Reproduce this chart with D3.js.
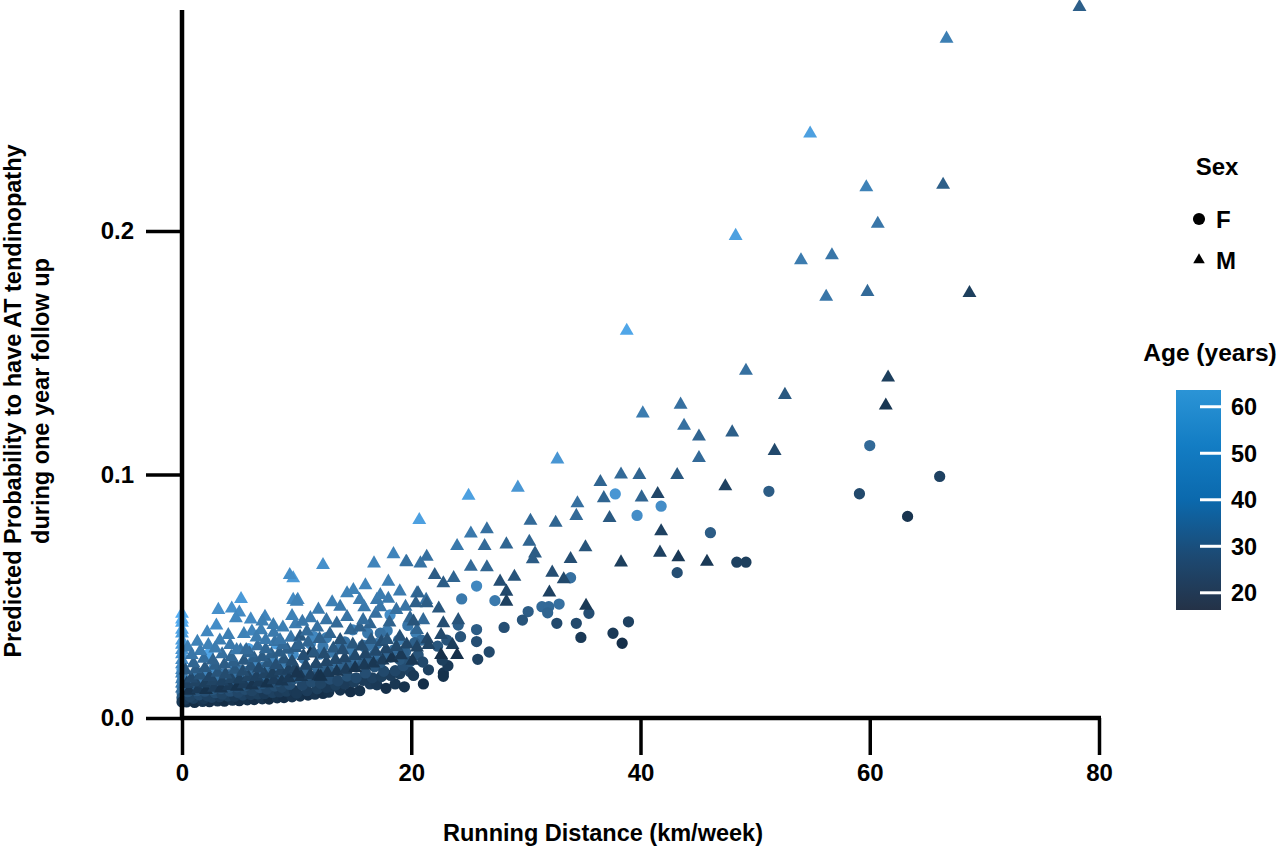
<!DOCTYPE html>
<html>
<head>
<meta charset="utf-8">
<script src="https://cdn.jsdelivr.net/npm/d3@7"></script>
<style>
    body { margin: 0; background: #fff; font-family: 'Liberation Sans', Arial, sans-serif; }
    svg { display: block; }
    text { font-weight: bold; fill: #000; }
</style>
</head>
<body>
<div id="chart"></div>
<script>
// [running distance km/week, predicted probability, age years]
var femalePoints = [
    [0,0.0199,58],[0,0.0176,55],[0,0.0151,52],[0,0.0128,48],[0,0.0104,42],[0,0.0083,33],[0,0.0066,22],
    [0.4,0.0066,19],[1.1,0.0064,17],[1.8,0.0068,20],[2.4,0.0067,18],[3.1,0.0070,19],[3.7,0.0069,17],[4.4,0.0073,20],
    [5.0,0.0071,18],[5.7,0.0075,19],[6.3,0.0076,18],[7.0,0.0079,20],[7.6,0.0078,17],[8.3,0.0083,19],[8.9,0.0084,18],[9.6,0.0087,20],
    [0.3,0.0078,23],[1.0,0.0081,24],[1.9,0.0080,22],[2.6,0.0085,25],[3.3,0.0087,23],[4.0,0.0090,24],[4.6,0.0089,22],
    [5.3,0.0094,25],[6.0,0.0096,23],[6.6,0.0099,24],[7.2,0.0100,22],[7.9,0.0105,25],[8.5,0.0107,23],[9.1,0.0110,24],[9.8,0.0112,22],
    [0.7,0.0088,26],[1.5,0.0095,28],[2.2,0.0091,25],[2.9,0.0104,29],[3.5,0.0098,26],[4.2,0.0110,30],[4.9,0.0105,27],
    [5.5,0.0118,29],[6.1,0.0112,26],[6.8,0.0125,30],[7.4,0.0119,27],[8.1,0.0131,29],[8.7,0.0126,26],[9.4,0.0138,30],
    [0.5,0.0108,31],[1.3,0.0112,32],[2.0,0.0110,30],[2.7,0.0118,33],[3.4,0.0121,31],[4.1,0.0125,32],[4.8,0.0128,30],
    [5.6,0.0135,33],[6.3,0.0138,31],[7.0,0.0142,32],[7.7,0.0147,31],[8.4,0.0152,33],[9.0,0.0156,31],[9.8,0.0162,33],
    [0.9,0.0122,35],[1.7,0.0135,37],[2.6,0.0128,33],[3.3,0.0146,38],[4.0,0.0139,34],[4.7,0.0158,39],[5.3,0.0150,35],
    [6.0,0.0166,38],[6.6,0.0160,34],[7.3,0.0178,40],[8.0,0.0170,36],[8.6,0.0188,39],[9.2,0.0181,35],
    [0.6,0.0150,42],[1.5,0.0158,43],[2.4,0.0165,41],[3.2,0.0170,43],[4.1,0.0178,42],[5.0,0.0186,43],[5.8,0.0192,41],
    [6.8,0.0200,43],[7.6,0.0190,40],[8.4,0.0215,44],[9.4,0.0220,42],
    [1.2,0.0172,46],[2.0,0.0190,49],[2.8,0.0205,52],[3.6,0.0182,44],[4.5,0.0221,53],[5.2,0.0196,46],[6.2,0.0233,51],
    [7.1,0.0210,45],[7.9,0.0246,50],[8.8,0.0228,47],[9.7,0.0262,52],
    [2.3,0.0262,60],[5.8,0.0285,58],[8.2,0.0305,57],
    [10.3,0.0090,19],[11.0,0.0094,18],[11.6,0.0098,20],[12.3,0.0101,18],[12.8,0.0106,19],[13.1,0.0129,22],[13.8,0.0115,20],
    [14.7,0.0108,18],[15.5,0.0112,19],[16.4,0.0140,23],[17.0,0.0136,22],[17.8,0.0122,18],[18.6,0.0140,21],[19.4,0.0128,19],
    [10.0,0.0102,22],[10.9,0.0112,23],[11.8,0.0120,24],[12.6,0.0125,22],[13.4,0.0135,24],[14.2,0.0140,23],[15.0,0.0148,24],
    [15.8,0.0155,23],[16.6,0.0165,25],[17.4,0.0170,24],[18.2,0.0175,23],[19.0,0.0182,24],[19.9,0.0190,25],
    [10.5,0.0135,27],[11.3,0.0148,29],[12.1,0.0142,26],[12.9,0.0160,30],[13.6,0.0153,27],[14.4,0.0172,31],[15.2,0.0165,28],
    [16.0,0.0185,30],[16.8,0.0210,32],[17.6,0.0192,28],[18.6,0.0194,27],[19.3,0.0215,30],
    [10.2,0.0170,34],[11.0,0.0178,34],[11.9,0.0185,33],[12.8,0.0195,35],[13.7,0.0205,34],[14.6,0.0215,35],[15.5,0.0225,34],
    [16.4,0.0235,35],[17.3,0.0228,33],[18.2,0.0250,35],[19.0,0.0240,33],[19.9,0.0232,31],
    [10.8,0.0195,37],[11.7,0.0212,40],[12.5,0.0203,36],[13.4,0.0228,41],[14.2,0.0219,37],[15.0,0.0245,40],[15.9,0.0236,36],
    [16.8,0.0262,41],[17.7,0.0254,38],[18.5,0.0280,40],[19.5,0.0272,37],[20.6,0.0259,32],
    [10.6,0.0245,45],[12.0,0.0262,44],[13.2,0.0270,45],[14.8,0.0280,46],[16.0,0.0290,44],[17.0,0.0305,45],[18.9,0.0320,46],
    [20.4,0.0350,47],
    [11.2,0.0305,50],[12.6,0.0330,46],[13.9,0.0300,44],[14.9,0.0362,49],[16.2,0.0349,45],[17.9,0.0358,46],[18.15,0.0423,52],
    [19.7,0.0380,44],[15.8,0.0298,42],[11.5,0.0334,50],[12.3,0.0294,45],[14.2,0.0313,43],[16.3,0.0300,42],[19.3,0.0266,36],
    [17.3,0.0348,42],[20.9,0.0320,40],
    [20.2,0.0175,22],[21.5,0.0198,25],[22.3,0.0295,33],[20.3,0.0309,36],[21.0,0.0230,28],[21.06,0.0140,18],
    [22.8,0.0185,20],[22.8,0.0171,19],[23.2,0.0215,22],[22.7,0.0238,24],[23.1,0.0320,32],[24.3,0.0334,32],[24.1,0.0382,36],
    [25.7,0.0363,35],[25.7,0.0314,30],[26.8,0.0271,28],[25.8,0.0241,25],
    [25.7,0.0542,50],[24.4,0.0489,45],[27.3,0.0482,45],[30.2,0.0437,35],[29.7,0.0402,32],[31.4,0.0457,40],[32.0,0.0457,40],
    [32.9,0.0468,42],[31.9,0.0432,38],[35.5,0.0430,30],[28.1,0.0372,30],[32.7,0.0389,28],[34.4,0.0389,28],[34.8,0.0331,22],
    [37.6,0.0348,22],[38.4,0.0307,18],[38.95,0.0395,25],[33.9,0.0576,42],[43.2,0.0597,30],
    [48.4,0.0640,25],[49.2,0.0640,24],
    [60.0,0.1119,40],[66.1,0.0992,25],[37.8,0.0920,55],[51.2,0.0931,35],[59.1,0.0921,28],[41.8,0.0870,52],[39.7,0.0832,52],
    [63.3,0.0828,20],[46.1,0.0761,35]
];

var malePoints = [
    [0,0.0428,63],[0,0.0405,62],[0,0.0391,61],[0,0.0362,60],[0,0.0347,58],[0,0.0318,58],[0,0.0301,57],[0,0.0279,55],
    [0,0.0262,55],[0,0.0238,52],[0,0.0221,51],[0,0.0197,50],[0,0.0183,48],[0,0.0159,47],[0,0.0142,45],[0,0.0121,42],
    [0.6,0.0112,20],[1.4,0.0118,22],[2.1,0.0115,19],[2.8,0.0124,23],[3.4,0.0121,20],[4.1,0.0131,22],[4.8,0.0128,19],
    [5.4,0.0139,23],[6.1,0.0134,20],[6.7,0.0146,22],[7.4,0.0142,19],[8.0,0.0155,23],[8.7,0.0150,21],[9.3,0.0163,22],
    [0.4,0.0140,25],[1.2,0.0146,26],[2.0,0.0142,24],[2.7,0.0152,26],[3.5,0.0150,25],[4.3,0.0160,26],[5.0,0.0158,24],
    [5.8,0.0168,26],[6.5,0.0170,25],[7.2,0.0180,26],[7.9,0.0183,24],[8.6,0.0192,26],[9.3,0.0198,25],[9.9,0.0205,26],
    [0.8,0.0162,28],[1.6,0.0175,31],[2.4,0.0168,27],[3.1,0.0186,32],[3.8,0.0179,29],[4.6,0.0198,33],[5.3,0.0190,29],
    [6.0,0.0212,32],[6.7,0.0203,28],[7.5,0.0226,33],[8.2,0.0218,30],[8.9,0.0240,32],[9.6,0.0232,29],
    [0.3,0.0195,34],[1.2,0.0200,35],[2.0,0.0205,34],[2.9,0.0215,36],[3.7,0.0220,35],[4.5,0.0228,36],[5.4,0.0235,34],
    [6.3,0.0245,36],[7.0,0.0250,35],[7.8,0.0262,36],[8.5,0.0268,35],[9.2,0.0280,36],[9.9,0.0288,35],
    [1.0,0.0225,38],[1.9,0.0243,41],[2.7,0.0236,37],[3.5,0.0262,42],[4.3,0.0251,39],[5.1,0.0278,43],[5.9,0.0266,38],
    [6.6,0.0295,42],[7.3,0.0282,39],[8.1,0.0312,43],[8.8,0.0299,40],[9.5,0.0330,44],
    [0.5,0.0290,47],[1.6,0.0275,46],[2.3,0.0300,48],[3.3,0.0318,47],[4.2,0.0300,45],[5.4,0.0345,48],[6.1,0.0355,49],
    [6.9,0.0360,47],[8.0,0.0350,45],[8.8,0.0372,47],[9.9,0.0385,46],[2.2,0.0352,50],[3.0,0.0380,52],[6.0,0.0405,51],
    [1.34,0.0313,48],[2.9,0.0286,46],[4.04,0.0341,47],[4.77,0.0279,45],[5.6,0.0279,40],[6.5,0.0331,46],[7.3,0.0320,45],
    [8.55,0.0320,44],[7.24,0.0416,49],[7.0,0.0396,47],[7.97,0.0382,46],[9.6,0.0419,48],[0.85,0.0259,44],
    [9.7,0.0574,56],[5.15,0.0489,56],[4.34,0.0450,53],[3.17,0.0444,53],[5.0,0.0433,51],[4.7,0.0410,50],[9.7,0.0485,51],
    [10.1,0.0485,50],[10.0,0.0478,48],[9.4,0.0587,52],
    [10.4,0.0168,21],[11.2,0.0176,23],[11.9,0.0172,20],[12.7,0.0185,22],[13.5,0.0190,21],[14.3,0.0198,23],[15.1,0.0205,20],
    [15.9,0.0216,22],[16.7,0.0224,21],[17.5,0.0236,23],[18.3,0.0245,20],[19.1,0.0258,22],[11.2,0.0265,22],[12.1,0.0169,19],
    [10.0,0.0183,20],
    [10.8,0.0215,27],[11.7,0.0222,28],[12.6,0.0230,27],[13.4,0.0238,28],[14.2,0.0245,27],[15.1,0.0255,28],[16.0,0.0262,27],
    [16.9,0.0272,28],[17.8,0.0282,27],[18.7,0.0292,28],[19.6,0.0302,27],[20.5,0.0290,26],
    [10.6,0.0255,30],[11.5,0.0268,33],[12.4,0.0262,29],[13.2,0.0285,34],[14.0,0.0278,30],[14.9,0.0302,33],[15.7,0.0294,29],
    [16.5,0.0320,34],[17.4,0.0312,30],[17.9,0.0320,32],[19.0,0.0334,31],[10.3,0.0334,34],[13.8,0.0320,31],
    [10.2,0.0300,37],[11.0,0.0310,38],[12.0,0.0325,37],[12.9,0.0345,38],[14.7,0.0360,38],[15.5,0.0372,37],[16.4,0.0385,38],
    [18.1,0.0392,37],[19.9,0.0410,38],
    [10.9,0.0355,40],[11.8,0.0372,42],[12.6,0.0402,43],[13.5,0.0388,40],[14.4,0.0415,43],[15.8,0.0402,41],[16.9,0.0428,42],
    [17.3,0.0455,44],[18.7,0.0444,42],[19.5,0.0457,43],[20.5,0.0361,38],[21.05,0.0402,40],[11.2,0.0410,45],
    [10.5,0.0395,44],[11.9,0.0445,46],[13.1,0.0475,47],[15.9,0.0455,45],[18.0,0.0490,45],[19.0,0.0520,46],[16.0,0.0545,49],
    [18.0,0.0560,47],
    [14.4,0.0512,48],[14.95,0.0526,48],[15.5,0.0485,46],[13.8,0.0457,45],[17.0,0.0485,45],[17.3,0.0505,46],[20.5,0.0512,42],
    [21.3,0.0485,42],
    [12.3,0.0628,53],[16.75,0.0635,49],[18.45,0.0673,49],[19.55,0.0642,46],[20.8,0.0635,43],
    [20.6,0.0512,38],[20.4,0.0471,36],[21.35,0.0471,35],[22.4,0.0450,33],[24.1,0.0402,32],[22.8,0.0389,30],[20.2,0.0396,32],
    [21.4,0.0322,27],[22.6,0.0341,28],[23.6,0.0300,24],[21.5,0.0300,26],[20.1,0.0235,22],[22.6,0.0259,18],[24.0,0.0259,18],
    [32.75,0.1062,55],[29.3,0.0946,55],[25.0,0.0913,58],[20.7,0.0813,58],[34.5,0.0882,42],[34.4,0.0830,40],[30.4,0.0810,40],
    [32.6,0.0802,38],[25.2,0.0758,45],[26.6,0.0775,42],[24.0,0.0706,45],[26.4,0.0706,40],[28.3,0.0713,38],[30.3,0.0724,38],
    [30.8,0.0676,35],[30.6,0.0652,35],[35.2,0.0701,32],[33.9,0.0653,30],[38.3,0.0639,24],[41.7,0.0679,25],[43.3,0.0660,22],
    [25.2,0.0621,40],[26.6,0.0619,38],[29.0,0.0580,32],[32.3,0.0597,30],[33.3,0.0570,28],[21.35,0.0662,42],[19.6,0.0640,42],
    [22.05,0.0587,35],[23.7,0.0575,38],[22.8,0.0553,35],[27.75,0.0560,30],[28.3,0.0519,28],[28.3,0.0478,25],[32.05,0.0515,25],
    [35.25,0.0461,22],[45.8,0.0642,22],
    [78.3,0.2920,36],[66.7,0.2790,47],[54.8,0.2400,58],[59.7,0.2180,48],[66.4,0.2190,36],[60.7,0.2030,44],[48.3,0.1980,58],
    [54.0,0.1880,46],[56.7,0.1900,44],[56.2,0.1730,44],[59.8,0.1750,40],[68.7,0.1745,24],[38.8,0.1590,60],[49.2,0.1426,42],
    [61.6,0.1398,24],[52.6,0.1327,34],[61.4,0.1283,21],[40.2,0.1251,46],[43.5,0.1287,42],[43.8,0.1200,42],[45.1,0.1156,38],
    [48.0,0.1173,36],[45.1,0.1068,40],[51.7,0.1097,28],[38.3,0.1000,40],[39.9,0.0998,38],[43.2,0.0998,34],[36.5,0.0969,38],
    [36.8,0.0903,38],[40.1,0.0906,38],[41.5,0.0920,27],[47.4,0.0952,25],[37.3,0.0821,34],[41.8,0.0767,25]
];

var xTicks = [0, 20, 40, 60, 80];
var yTicks = [0, 0.1, 0.2];
var ageTicks = [20, 30, 40, 50, 60];
var sexLabels = ["F", "M"];

var W = 1280, H = 847;
var svg = d3.select("#chart").append("svg").attr("width", W).attr("height", H);

var x = d3.scaleLinear().domain([0, 80]).range([182, 1099]);
var y = d3.scaleLinear().domain([0, 0.1]).range([718, 474.5]);
var color = d3.scaleSequential(d3.interpolateLab("#132B43", "#56B1F7")).domain([16.3, 63.6]);

var circle = d3.symbol().type(d3.symbolCircle).size(100);
var triangle = d3.symbol().type(d3.symbolTriangle).size(84);

// points
var pts = svg.append("g");
pts.selectAll(".f").data(femalePoints).enter().append("path")
    .attr("d", circle)
    .attr("transform", function(d) { return "translate(" + x(d[0]) + "," + y(d[1]) + ")"; })
    .attr("fill", function(d) { return color(d[2]); });
pts.selectAll(".m").data(malePoints).enter().append("path")
    .attr("d", triangle)
    .attr("transform", function(d) { return "translate(" + x(d[0]) + "," + y(d[1]) + ")"; })
    .attr("fill", function(d) { return color(d[2]); });

// axes
var xAxis = d3.axisBottom(x).tickValues(xTicks).tickSize(37).tickPadding(9).tickFormat(d3.format("d"));
var yAxis = d3.axisLeft(y).tickValues(yTicks).tickSize(36).tickPadding(12).tickFormat(d3.format(".1f"));

var gx = svg.append("g").attr("transform", "translate(0,718)").call(xAxis);
var gy = svg.append("g").attr("transform", "translate(182,0)").call(yAxis);
[gx, gy].forEach(function(g) {
    g.select(".domain").remove();
    g.selectAll(".tick line").attr("stroke", "#000").attr("stroke-width", 3.5);
    g.selectAll(".tick text").attr("font-size", 24).attr("font-family", "'Liberation Sans', Arial, sans-serif")
        .attr("font-weight", "bold").attr("fill", "#000");
});
svg.append("line").attr("x1", 180).attr("x2", 1101).attr("y1", 718).attr("y2", 718)
    .attr("stroke", "#000").attr("stroke-width", 4.5);
svg.append("line").attr("x1", 182).attr("x2", 182).attr("y1", 10).attr("y2", 720)
    .attr("stroke", "#000").attr("stroke-width", 4.5);

// axis titles
svg.append("text").attr("x", 603).attr("y", 841).attr("text-anchor", "middle")
    .attr("font-size", 23.5).text("Running Distance (km/week)");
var yt = svg.append("text").attr("transform", "translate(21,401) rotate(-90)").attr("text-anchor", "middle")
    .attr("font-size", 23.5);
yt.append("tspan").attr("x", 0).attr("dy", 0).text("Predicted Probability to have AT tendinopathy");
yt.append("tspan").attr("x", 0).attr("dy", 28).text("during one year follow up");

// sex legend
svg.append("text").attr("x", 1217).attr("y", 175).attr("text-anchor", "middle").attr("font-size", 24).text("Sex");
var leg = svg.append("g");
sexLabels.forEach(function(s, i) {
    var cy = 219 + i * 41;
    leg.append("path").attr("d", i === 0 ? d3.symbol().type(d3.symbolCircle).size(115)() : d3.symbol().type(d3.symbolTriangle).size(58)())
        .attr("transform", "translate(1199," + cy + ")").attr("fill", "#000");
    leg.append("text").attr("x", 1216).attr("y", cy + 9).attr("font-size", 24).text(s);
});

// age colour bar
svg.append("text").attr("x", 1210).attr("y", 361).attr("text-anchor", "middle").attr("font-size", 24.5).text("Age (years)");
var defs = svg.append("defs");
var grad = defs.append("linearGradient").attr("id", "agegrad").attr("x1", 0).attr("x2", 0).attr("y1", 1).attr("y2", 0);
[["0%", "#243247"], ["25%", "#1c4a74"], ["50%", "#0b69ad"], ["75%", "#137dc4"], ["100%", "#2b94d6"]].forEach(function(s) {
    grad.append("stop").attr("offset", s[0]).attr("stop-color", s[1]);
});
var age = d3.scaleLinear().domain([16.3, 63.6]).range([610, 390]);
svg.append("rect").attr("x", 1176).attr("y", age(63.6)).attr("width", 45).attr("height", age(16.3) - age(63.6))
    .attr("fill", "url(#agegrad)");
var cb = svg.append("g").selectAll("g").data(ageTicks).enter().append("g");
cb.append("line").attr("x1", 1200).attr("x2", 1221)
    .attr("y1", function(d) { return age(d); }).attr("y2", function(d) { return age(d); })
    .attr("stroke", "#fff").attr("stroke-width", 3);
cb.append("text").attr("x", 1231).attr("y", function(d) { return age(d) + 8.5; }).attr("font-size", 23.5)
    .text(function(d) { return d; });
</script>
</body>
</html>
